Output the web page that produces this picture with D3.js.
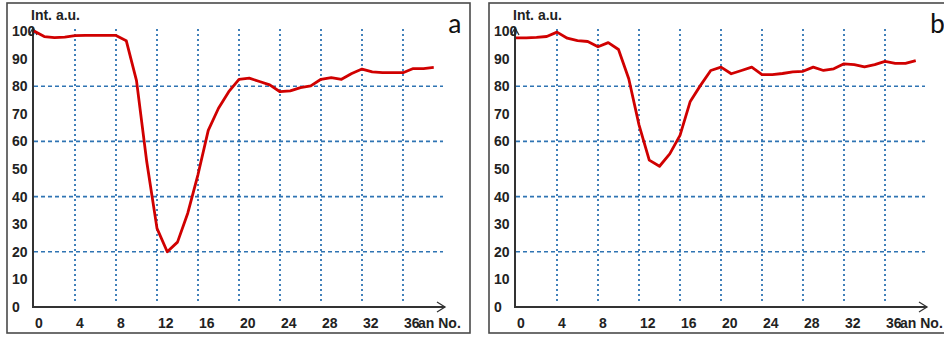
<!DOCTYPE html>
<html>
<head>
<meta charset="utf-8">
<script src="https://cdn.jsdelivr.net/npm/d3@7"></script>
<style>
  body { margin: 0; background: #fff; }
  svg { display: block; }
  .tick-label { font-family: "Liberation Sans", Arial, sans-serif; font-weight: bold; font-size: 14px; fill: #222; }
</style>
</head>
<body>
<svg id="chart" width="944" height="338"></svg>
<script>
// scan number (x) and intensity (a.u.)
const scanNo = d3.range(0, 40);
const intensityA = [100, 98, 97.6, 97.8, 98.3, 98.4, 98.4, 98.4, 98.4, 96.5,
  82, 52.6, 28.5, 20, 23.5, 34, 48, 64, 72, 78,
  82.5, 82.9, 81.7, 80.5, 78, 78.3, 79.5, 80.1, 82.5, 83.1,
  82.5, 84.6, 86.2, 85.2, 84.9, 84.9, 84.9, 86.4, 86.4, 86.8];
const intensityB = [97.5, 97.5, 97.7, 98, 99.6, 97.4, 96.5, 96.2, 94.3, 95.8,
  93.3, 82.7, 66, 53.2, 51, 55.5, 62.2, 74.5, 80.3, 85.7,
  86.9, 84.5, 85.7, 86.9, 84.2, 84.2, 84.6, 85.2, 85.4, 86.9,
  85.7, 86.3, 88.1, 87.8, 87, 87.8, 89, 88.3, 88.3, 89.3];
const xTicks = [0, 4, 8, 12, 16, 20, 24, 28, 32, 36];
const yTicks = [0, 10, 20, 30, 40, 50, 60, 70, 80, 90, 100];
const yGrid = [20, 40, 60, 80];
const panels = [
  { letter: "a", values: intensityA, dx: 0 },
  { letter: "b", values: intensityB, dx: 482 }
];

const svg = d3.select("#chart");

const x = d3.scaleLinear().domain([0, 36]).range([34, 403]);
const y = d3.scaleLinear().domain([0, 100]).range([307, 31]);

const gridColor = "#2f74b3";

function drawPanel(p) {
  const g = svg.append("g").attr("transform", `translate(${p.dx},0)`);

  // frame
  g.append("rect")
    .attr("x", 7).attr("y", 3).attr("width", 463).attr("height", 330)
    .attr("fill", "#fff").attr("stroke", "#4a4a4a").attr("stroke-width", 1.6);

  // vertical grid
  g.selectAll(".vgrid").data(xTicks.filter(d => d > 0)).enter().append("line")
    .attr("x1", d => x(d)).attr("x2", d => x(d))
    .attr("y1", 29).attr("y2", 304)
    .attr("stroke", gridColor).attr("stroke-width", 1.8)
    .attr("stroke-dasharray", "2,3");

  // horizontal grid
  g.selectAll(".hgrid").data(yGrid).enter().append("line")
    .attr("x1", 34).attr("x2", 443)
    .attr("y1", d => y(d)).attr("y2", d => y(d))
    .attr("stroke", gridColor).attr("stroke-width", 1.6)
    .attr("stroke-dasharray", "4,3");

  // axes with arrows
  g.append("line").attr("x1", 33).attr("x2", 33).attr("y1", 28).attr("y2", 308)
    .attr("stroke", "#333").attr("stroke-width", 2);
  g.append("line").attr("x1", 32).attr("x2", 445).attr("y1", 307).attr("y2", 307)
    .attr("stroke", "#333").attr("stroke-width", 2);
  g.append("path").attr("d", "M437,302 L445,307 L437,312")
    .attr("fill", "none").attr("stroke", "#333").attr("stroke-width", 1.3);
  g.append("path").attr("d", "M29,35 L33,28 L37,35")
    .attr("fill", "none").attr("stroke", "#333").attr("stroke-width", 1.3);

  // tick labels
  g.selectAll(".ylab").data(yTicks).enter().append("text")
    .attr("class", "tick-label")
    .attr("x", 12).attr("y", d => y(d))
    .attr("dy", "0.36em")
    .text(d => d);
  g.selectAll(".xlab").data(xTicks).enter().append("text")
    .attr("class", "tick-label")
    .attr("x", d => x(d) + 1).attr("y", 328)
    .text(d => d);
  g.append("text").attr("class", "tick-label")
    .attr("x", x(36) + 15).attr("y", 328)
    .text("an No.");
  g.append("text").attr("class", "tick-label")
    .attr("x", 31).attr("y", 20)
    .text("Int. a.u.");

  // panel letter
  g.append("text")
    .attr("x", 448).attr("y", 33)
    .attr("font-family", "Carlito, 'Liberation Sans', Arial, sans-serif")
    .attr("font-size", 28).attr("fill", "#111")
    .text(p.letter);

  // data line
  const line = d3.line().x((d, i) => x(scanNo[i])).y(d => y(d));
  g.append("path").datum(p.values)
    .attr("d", line)
    .attr("fill", "none").attr("stroke", "#d00000")
    .attr("stroke-width", 2.8).attr("stroke-linejoin", "round");
}

panels.forEach(drawPanel);
</script>
</body>
</html>
